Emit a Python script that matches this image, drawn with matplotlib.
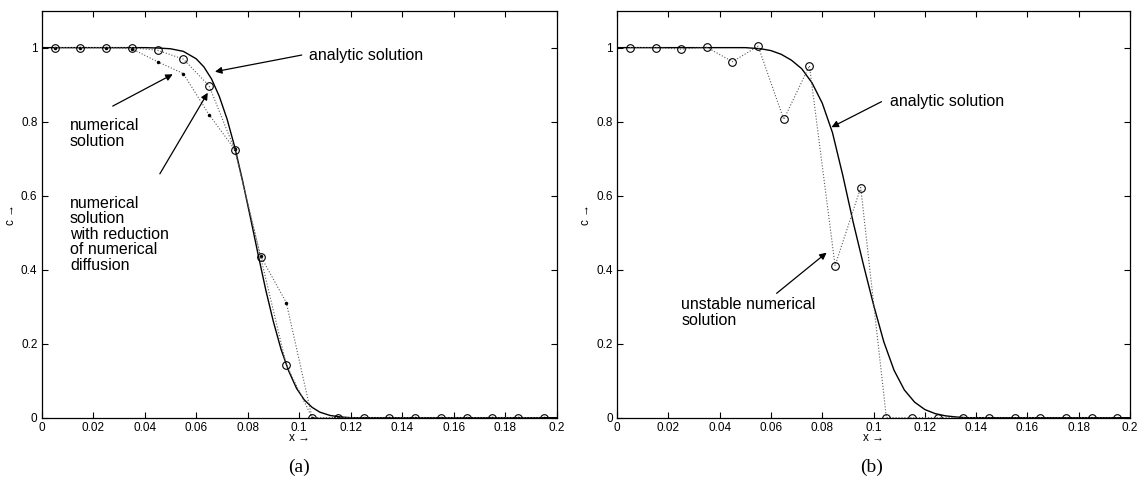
import matplotlib
matplotlib.use('Agg')
import matplotlib.pyplot as plt
import numpy as np

plt.rcParams['font.family'] = ['Liberation Sans', 'DejaVu Sans']

# grid points of the numerical schemes
x_grid = [0.005, 0.015, 0.025, 0.035, 0.045, 0.055, 0.065, 0.075, 0.085, 0.095,
          0.105, 0.115, 0.125, 0.135, 0.145, 0.155, 0.165, 0.175, 0.185, 0.195]

# (a) numerical solution (dots) and with reduced numerical diffusion (circles)
a_numerical = [1.0, 1.0, 1.0, 0.997, 0.962, 0.93, 0.819, 0.725, 0.437, 0.311,
               0, 0, 0, 0, 0, 0, 0, 0, 0, 0]
a_reduced = [1.0, 1.0, 1.0, 1.0, 0.993, 0.969, 0.897, 0.724, 0.435, 0.143,
             0, 0, 0, 0, 0, 0, 0, 0, 0, 0]

# (a) analytic solution
a_x = [0.0, 0.040, 0.045, 0.050, 0.055, 0.060, 0.063, 0.066, 0.069, 0.072, 0.075,
       0.078, 0.081, 0.084, 0.087, 0.090, 0.093, 0.096, 0.099, 0.102, 0.105,
       0.108, 0.112, 0.116, 0.120, 0.200]
a_c = [1.0, 1.0, 0.999, 0.997, 0.990, 0.970, 0.948, 0.915, 0.868, 0.807, 0.731,
       0.641, 0.543, 0.443, 0.346, 0.259, 0.184, 0.125, 0.079, 0.048, 0.028,
       0.015, 0.006, 0.002, 0.0, 0.0]

# (b) unstable numerical solution
b_unstable = [1.0, 1.0, 0.996, 1.001, 0.962, 1.004, 0.806, 0.951, 0.411, 0.622,
              0, 0, 0, 0, 0, 0, 0, 0, 0, 0]

# (b) analytic solution
b_x = [0.0, 0.050, 0.056, 0.060, 0.064, 0.068, 0.072, 0.076, 0.080, 0.084, 0.088,
       0.092, 0.096, 0.100, 0.104, 0.108, 0.112, 0.116, 0.120, 0.124, 0.128,
       0.132, 0.136, 0.200]
b_c = [1.0, 1.0, 0.997, 0.992, 0.982, 0.966, 0.943, 0.905, 0.850, 0.770, 0.655,
       0.530, 0.415, 0.305, 0.205, 0.128, 0.075, 0.042, 0.022, 0.011, 0.005,
       0.002, 0.0, 0.0]

xticks = [0, 0.02, 0.04, 0.06, 0.08, 0.1, 0.12, 0.14, 0.16, 0.18, 0.2]
yticks = [0, 0.2, 0.4, 0.6, 0.8, 1]

fig = plt.figure(figsize=(11.41, 4.97), dpi=100)
ax1 = fig.add_axes([0.0365, 0.1596, 0.4514, 0.819])
ax2 = fig.add_axes([0.5408, 0.1596, 0.4496, 0.819])

arrow = dict(arrowstyle='-|>', color='black', lw=0.9, mutation_scale=10,
             shrinkA=0, shrinkB=0)


def setup(ax):
    ax.set_xlim(0, 0.2)
    ax.set_ylim(0, 1.1)
    ax.set_xticks(xticks)
    ax.set_xticklabels(['%g' % t for t in xticks])
    ax.set_yticks(yticks)
    ax.set_yticklabels(['%g' % t for t in yticks])
    ax.tick_params(direction='in', top=True, right=True, length=4, width=0.8,
                   labelsize=8.5, pad=3)
    for s in ax.spines.values():
        s.set_linewidth(0.9)
    ax.set_xlabel('x \u2192', fontsize=8.5, labelpad=-1)
    ax.set_ylabel('c \u2192', fontsize=8.5, labelpad=3)


def note(ax, text, tail, tip, textpos):
    ax.annotate('', xy=tip, xytext=tail, arrowprops=arrow)
    ax.text(textpos[0], textpos[1], text, fontsize=11.5, ha='left', va='top',
            linespacing=1.05)


# (a)
ax1.plot(a_x, a_c, '-', color='black', lw=1.0)
ax1.plot(x_grid, a_numerical, ':', color='0.35', lw=0.8)
ax1.plot(x_grid, a_numerical, '.', color='black', ms=3)
ax1.plot(x_grid, a_reduced, ':', color='0.35', lw=0.8)
ax1.plot(x_grid, a_reduced, 'o', mfc='none', mec='black', ms=5.5, mew=0.8)
setup(ax1)
ax1.annotate('', xy=(0.0673, 0.935), xytext=(0.101, 0.980), arrowprops=arrow)
ax1.text(0.1038, 0.980, 'analytic solution', fontsize=11.5, va='center')
note(ax1, 'numerical\nsolution', (0.0276, 0.842), (0.0509, 0.928), (0.011, 0.81))
note(ax1, 'numerical\nsolution\nwith reduction\nof numerical\ndiffusion',
     (0.0459, 0.659), (0.0645, 0.878), (0.011, 0.60))

# (b)
ax2.plot(b_x, b_c, '-', color='black', lw=1.0)
ax2.plot(x_grid, b_unstable, ':', color='0.35', lw=0.8)
ax2.plot(x_grid, b_unstable, 'o', mfc='none', mec='black', ms=5.5, mew=0.8)
setup(ax2)
ax2.annotate('', xy=(0.0836, 0.785), xytext=(0.1031, 0.854), arrowprops=arrow)
ax2.text(0.1063, 0.854, 'analytic solution', fontsize=11.5, va='center')
note(ax2, 'unstable numerical\nsolution', (0.0622, 0.336), (0.0817, 0.446),
     (0.025, 0.325))

fig.text(0.262, 0.06, '(a)', fontsize=14, family='Liberation Serif',
         ha='center', va='center')
fig.text(0.764, 0.06, '(b)', fontsize=14, family='Liberation Serif',
         ha='center', va='center')

fig.savefig('out.png', dpi=100)
